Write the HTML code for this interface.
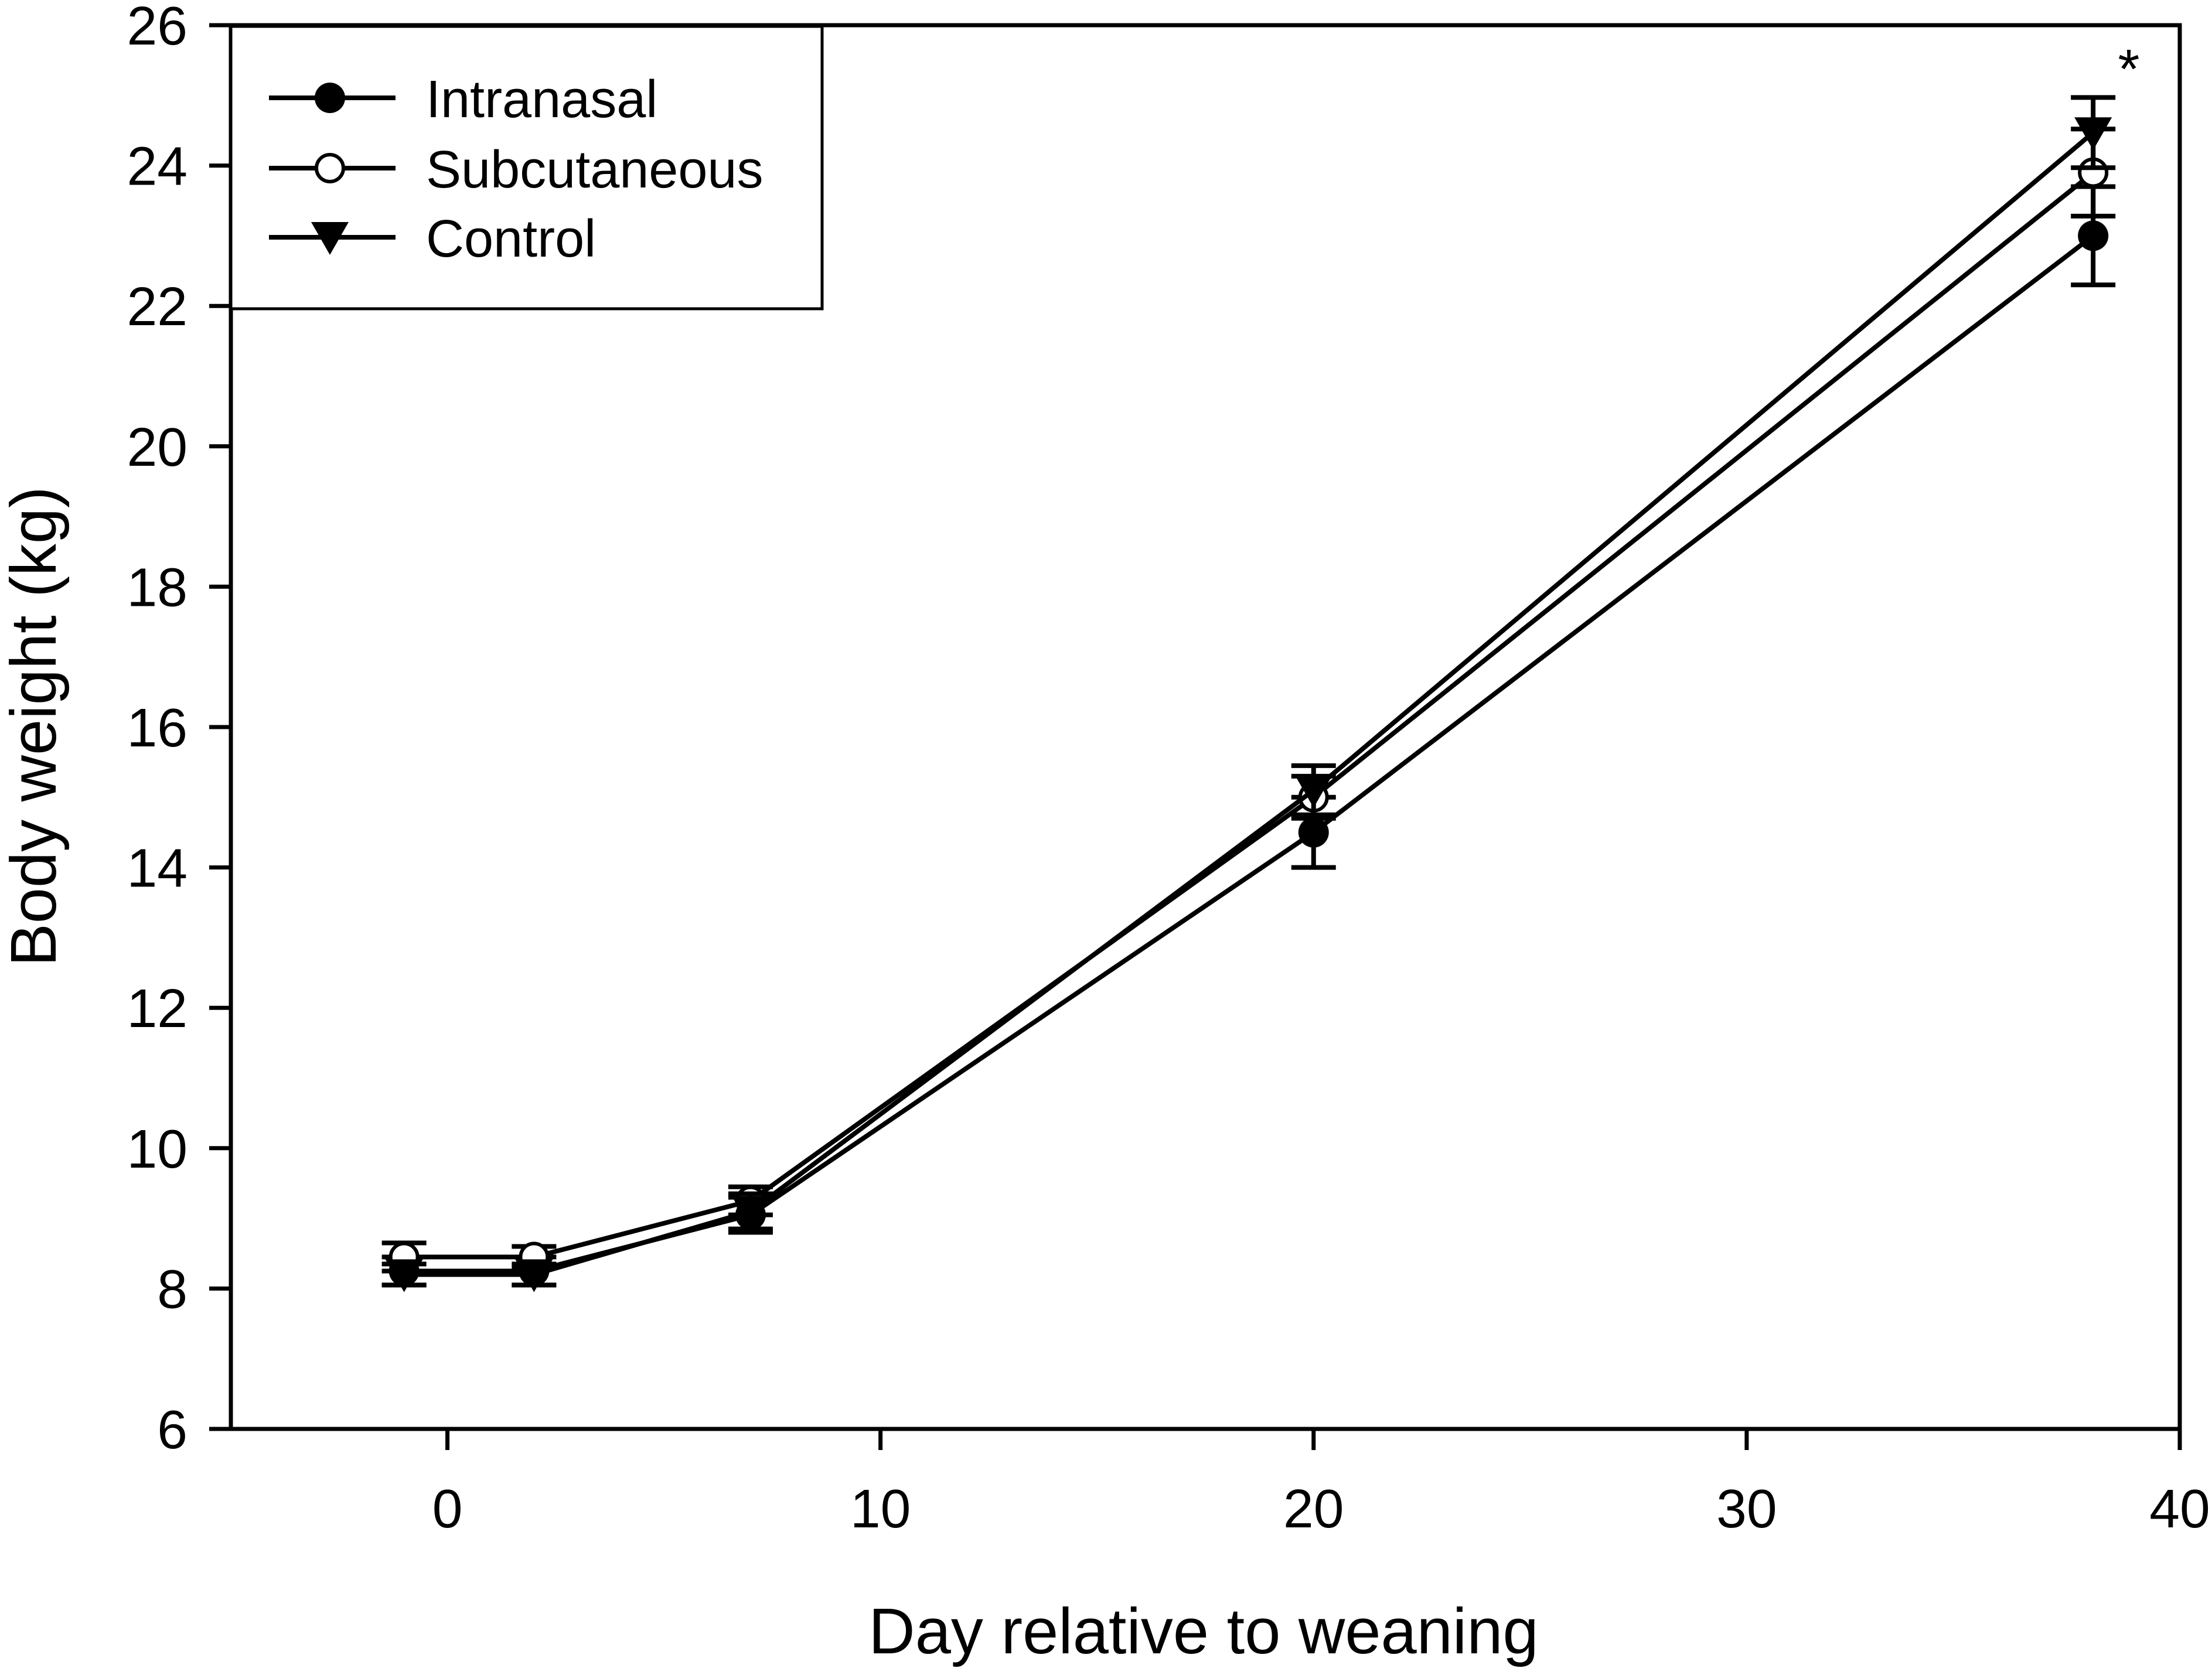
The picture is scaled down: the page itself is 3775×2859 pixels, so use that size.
<!DOCTYPE html>
<html><head><meta charset="utf-8"><style>
html,body{margin:0;padding:0;background:#fff;}
svg{display:block;font-family:"Liberation Sans",Arial,sans-serif;}
</style></head><body>
<svg id="chart" width="3775" height="2859" viewBox="0 0 3775 2859" xmlns="http://www.w3.org/2000/svg">
<rect x="0" y="0" width="3775" height="2859" fill="#fff"/>
<g id="plot"></g>
</svg>
<script>
const days = [-1, 2, 7, 20, 38];
const intranasal = [8.25, 8.25, 9.05, 14.5, 23.0];
const intranasalErr = [0.2, 0.2, 0.25, 0.5, 0.7];
const subcutaneous = [8.45, 8.45, 9.25, 15.0, 23.9];
const subcutaneousErr = [0.2, 0.15, 0.2, 0.3, 0.62];
const control = [8.2, 8.2, 9.1, 15.1, 24.47];
const controlErr = [0.15, 0.15, 0.25, 0.35, 0.5];
const xTicks = [0, 10, 20, 30, 40];
const yTicks = [6, 8, 10, 12, 14, 16, 18, 20, 22, 24, 26];

const L = 394, R = 3720, T = 43, B = 2439;
const xMin = -5, xMax = 40, yMin = 6, yMax = 26;
const sx = v => L + (v - xMin) / (xMax - xMin) * (R - L);
const sy = v => B - (v - yMin) / (yMax - yMin) * (B - T);
const NS = "http://www.w3.org/2000/svg";
const g = document.getElementById('plot');
function mk(tag, attrs, parent) {
  const e = document.createElementNS(NS, tag);
  for (const k in attrs) e.setAttribute(k, attrs[k]);
  (parent || g).appendChild(e);
  return e;
}

const frame = mk('rect', {x: L, y: T, width: R - L, height: B - T, fill: 'none', stroke: '#000', 'stroke-width': 7});



yTicks.forEach(v => {
  const t = mk('line', {x1: L - 37, x2: L, y1: sy(v), y2: sy(v), stroke: '#000', 'stroke-width': 7});
  
  
  const lb = mk('text', {x: 320, y: sy(v) + 33, 'font-size': 93, 'text-anchor': 'end', fill: '#000'});
  lb.textContent = v;
  
  
});
xTicks.forEach(v => {
  const t = mk('line', {x1: sx(v), x2: sx(v), y1: B, y2: B + 36, stroke: '#000', 'stroke-width': 7});
  
  
  const lb = mk('text', {x: sx(v), y: 2607, 'font-size': 93, 'text-anchor': 'middle', fill: '#000'});
  lb.textContent = v;
  
  
});

const xt = mk('text', {x: 2054, y: 2822, 'font-size': 110, 'text-anchor': 'middle', fill: '#000'});
xt.textContent = 'Day relative to weaning';


const yt = mk('text', {x: 0, y: 0, 'font-size': 110, 'text-anchor': 'middle', fill: '#000', transform: 'translate(95,1240) rotate(-90)'});
yt.textContent = 'Body weight (kg)';



function marker(type, cx, cy, parent) {
  if (type === 'filled') return mk('circle', {cx, cy, r: 26, fill: '#000'}, parent);
  if (type === 'open') return mk('circle', {cx, cy, r: 23, fill: '#fff', stroke: '#000', 'stroke-width': 6}, parent);
  return mk('polygon', {points: `${cx-32},${cy-26} ${cx+32},${cy-26} ${cx},${cy+30}`, fill: '#000'}, parent);
}

const series = [
  {name: 'intranasal', vals: intranasal, err: intranasalErr, m: 'filled'},
  {name: 'subcutaneous', vals: subcutaneous, err: subcutaneousErr, m: 'open'},
  {name: 'control', vals: control, err: controlErr, m: 'tri'}
];
series.forEach(s => {
  const sg = mk('g', {});
  
  
  const pts = days.map((d, i) => sx(d) + ',' + sy(s.vals[i])).join(' ');
  const pl = mk('polyline', {points: pts, fill: 'none', stroke: '#000', 'stroke-width': 8}, sg);
  
  
  days.forEach((d, i) => {
    const x = sx(d), hi = sy(s.vals[i] + s.err[i]), lo = sy(s.vals[i] - s.err[i]);
    const eb = mk('path', {d: `M${x},${hi}V${lo}M${x-38},${hi}H${x+38}M${x-38},${lo}H${x+38}`, stroke: '#000', 'stroke-width': 8, fill: 'none'}, sg);
    
    
  });
  days.forEach((d, i) => {
    const mm = marker(s.m, sx(d), sy(s.vals[i]), sg);
    
    
  });
});

const ast = mk('text', {x: 3633, y: 150, 'font-size': 95, 'text-anchor': 'middle', fill: '#000'});
ast.textContent = '*';



const lg = mk('g', {});


mk('rect', {x: 394, y: 45, width: 1009, height: 482, fill: '#fff', stroke: '#000', 'stroke-width': 5}, lg);
const rows = [['Intranasal', 'filled', 167], ['Subcutaneous', 'open', 287], ['Control', 'tri', 405]];
rows.forEach(r => {
  const eg = mk('g', {}, lg);
  
  
  mk('line', {x1: 459, x2: 675, y1: r[2], y2: r[2], stroke: '#000', 'stroke-width': 8}, eg);
  marker(r[1], 563, r[2], eg);
  const tx = mk('text', {x: 727, y: r[2] + 33, 'font-size': 90, fill: '#000'}, eg);
  tx.textContent = r[0];
});
</script>
</body></html>
